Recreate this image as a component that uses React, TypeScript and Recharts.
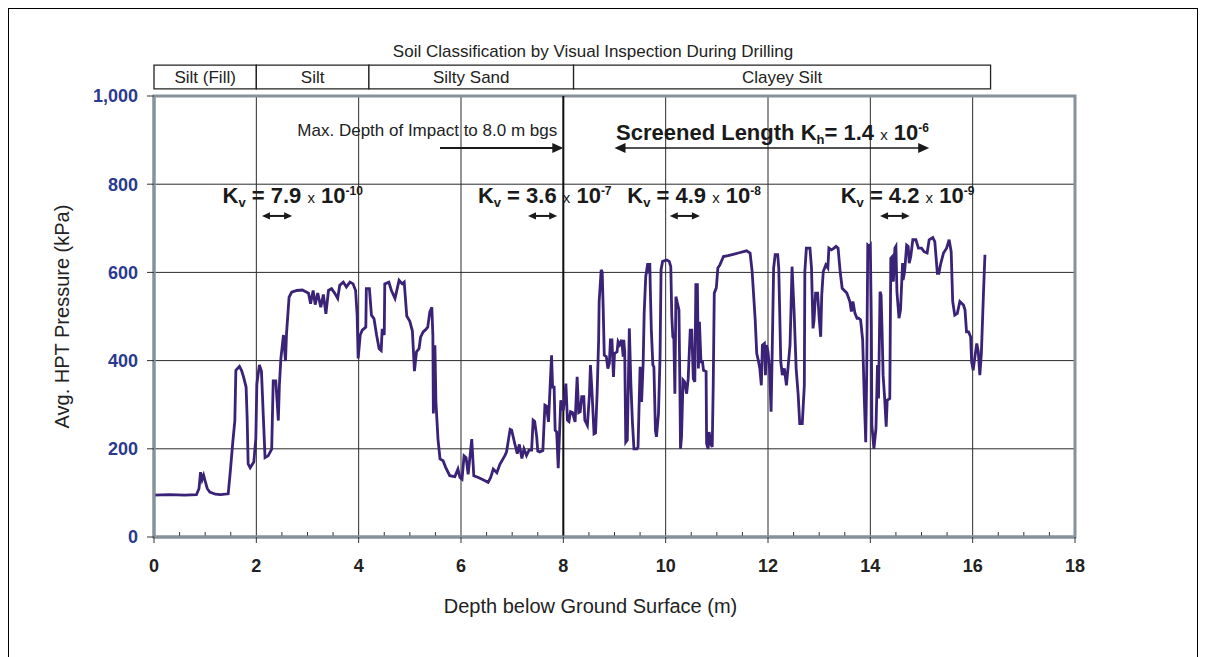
import React from 'react';
import {
  LineChart,
  Line,
  XAxis,
  YAxis,
  CartesianGrid,
  ReferenceLine,
  ReferenceArea,
  ReferenceDot,
  Label,
} from 'recharts';

const FONT = '"Liberation Sans", Arial, Helvetica, sans-serif';

// ---------- HPT trace: depth (m) and average HPT pressure (kPa) ----------
const depthM = [
  0, 0.3, 0.6, 0.83, 0.88, 0.91, 0.94, 0.97, 1.0, 1.04, 1.09, 1.2, 1.3, 1.45,
  1.49, 1.54, 1.58, 1.6, 1.67, 1.71, 1.75, 1.8, 1.82, 1.84, 1.88, 1.95, 1.99, 2.01, 2.06, 2.1, 2.14, 2.17, 2.23, 2.3,
  2.33, 2.38, 2.43, 2.45, 2.48, 2.53, 2.57, 2.59, 2.64, 2.69, 2.79, 2.9, 3.02, 3.06, 3.11, 3.15, 3.2, 3.26, 3.31, 3.36,
  3.41, 3.47, 3.53, 3.59, 3.63, 3.7, 3.76, 3.83, 3.89, 3.94, 3.97, 3.99, 4.03, 4.07, 4.14, 4.15, 4.21, 4.25, 4.3, 4.35,
  4.4, 4.44, 4.46, 4.5, 4.51, 4.59, 4.64, 4.71, 4.79, 4.85, 4.89, 4.94, 5.0, 5.05, 5.09, 5.13, 5.18, 5.21, 5.26, 5.3,
  5.35, 5.39, 5.43, 5.45, 5.46, 5.49, 5.51, 5.55, 5.59, 5.65, 5.7, 5.78, 5.88, 5.94, 5.98, 6.02, 6.06, 6.1, 6.14, 6.21,
  6.25, 6.34, 6.44, 6.53, 6.58, 6.63, 6.7, 6.76, 6.86, 6.89, 6.96, 6.99, 7.05, 7.1, 7.14, 7.19, 7.23, 7.28, 7.33, 7.38,
  7.41, 7.44, 7.48, 7.5, 7.54, 7.6, 7.64, 7.67, 7.71, 7.74, 7.77, 7.79, 7.82, 7.84, 7.87, 7.9, 7.95, 8.0, 8.05, 8.08,
  8.11, 8.14, 8.18, 8.23, 8.27, 8.3, 8.33, 8.36, 8.4, 8.42, 8.47, 8.51, 8.53, 8.56, 8.6, 8.63, 8.66, 8.69, 8.7, 8.74,
  8.76, 8.78, 8.8, 8.84, 8.87, 8.9, 8.92, 8.95, 8.98, 9.0, 9.05, 9.07, 9.1, 9.14, 9.17, 9.18, 9.2, 9.22, 9.25, 9.29,
  9.32, 9.35, 9.38, 9.44, 9.46, 9.5, 9.53, 9.56, 9.58, 9.61, 9.65, 9.67, 9.69, 9.7, 9.72, 9.75, 9.77, 9.8, 9.82, 9.86,
  9.89, 9.91, 9.94, 10.02, 10.07, 10.1, 10.12, 10.14, 10.16, 10.18, 10.2, 10.23, 10.26, 10.28, 10.29, 10.31, 10.34, 10.37, 10.41, 10.44,
  10.48, 10.51, 10.54, 10.57, 10.59, 10.62, 10.64, 10.66, 10.69, 10.72, 10.74, 10.79, 10.8, 10.83, 10.85, 10.88, 10.91, 10.93, 10.95, 10.99,
  11.02, 11.06, 11.13, 11.22, 11.32, 11.42, 11.52, 11.58, 11.65, 11.69, 11.75, 11.78, 11.81, 11.84, 11.87, 11.89, 11.93, 11.95, 11.97, 12.0,
  12.03, 12.06, 12.08, 12.11, 12.14, 12.19, 12.21, 12.25, 12.28, 12.32, 12.36, 12.39, 12.43, 12.45, 12.47, 12.51, 12.55, 12.59, 12.62, 12.67,
  12.71, 12.72, 12.75, 12.82, 12.85, 12.88, 12.9, 12.93, 12.97, 13.0, 13.03, 13.05, 13.08, 13.13, 13.17, 13.19, 13.24, 13.29, 13.33, 13.37,
  13.41, 13.45, 13.54, 13.6, 13.63, 13.66, 13.7, 13.74, 13.77, 13.81, 13.85, 13.88, 13.91, 13.93, 13.95, 13.98, 14.0, 14.02, 14.03, 14.07,
  14.11, 14.14, 14.16, 14.19, 14.21, 14.23, 14.25, 14.28, 14.31, 14.33, 14.38, 14.4, 14.43, 14.45, 14.48, 14.5, 14.52, 14.56, 14.59, 14.63,
  14.64, 14.67, 14.71, 14.74, 14.76, 14.79, 14.83, 14.89, 14.94, 15.0, 15.05, 15.11, 15.15, 15.22, 15.26, 15.31, 15.34, 15.37, 15.43, 15.49,
  15.54, 15.58, 15.61, 15.65, 15.7, 15.75, 15.82, 15.85, 15.88, 15.92, 15.96, 15.98, 16.01, 16.04, 16.08, 16.11, 16.14, 16.17, 16.21, 16.24,
];

const hptKPa = [
  95, 96, 95, 96, 110, 147, 130, 140, 127, 110, 102, 97, 96, 98,
  147, 215, 264, 378, 387, 378, 363, 340, 272, 166, 157, 170, 223, 347, 390, 376, 264, 180, 184, 199,
  354, 354, 264, 343, 405, 458, 399, 461, 544, 555, 559, 560, 553, 529, 559, 527, 553, 521, 550, 506,
  559, 563, 553, 541, 571, 578, 567, 578, 574, 559, 503, 405, 458, 469, 476, 563, 563, 503, 495, 458,
  427, 423, 472, 458, 574, 578, 559, 541, 582, 574, 578, 501, 489, 467, 376, 420, 427, 453, 465, 469,
  476, 510, 521, 458, 280, 435, 306, 222, 177, 173, 158, 139, 137, 154, 135, 131, 184, 180, 142, 222,
  139, 135, 129, 124, 135, 154, 146, 165, 185, 193, 244, 242, 212, 189, 210, 178, 200, 185, 197, 197,
  265, 262, 227, 195, 193, 196, 299, 297, 261, 337, 412, 340, 340, 242, 238, 156, 310, 287, 348, 265,
  262, 284, 282, 261, 363, 282, 284, 318, 318, 265, 253, 322, 390, 330, 234, 236, 325, 447, 534, 606,
  600, 515, 412, 409, 382, 394, 447, 447, 363, 416, 420, 443, 436, 447, 409, 447, 420, 215, 220, 473,
  348, 261, 200, 200, 204, 386, 306, 394, 507, 590, 621, 598, 621, 563, 469, 390, 386, 242, 227, 280,
  409, 606, 625, 628, 625, 613, 500, 454, 450, 325, 545, 530, 515, 322, 200, 227, 356, 352, 325, 359,
  469, 469, 359, 352, 572, 572, 382, 488, 397, 397, 378, 375, 212, 200, 238, 212, 204, 348, 553, 565,
  610, 617, 636, 638, 641, 644, 647, 649, 644, 602, 492, 416, 401, 382, 344, 435, 439, 367, 435, 420,
  382, 284, 405, 610, 640, 640, 610, 397, 367, 382, 344, 382, 435, 519, 613, 511, 382, 322, 257, 257,
  344, 602, 655, 655, 610, 473, 492, 553, 553, 496, 454, 548, 602, 617, 610, 655, 651, 655, 659, 655,
  602, 564, 553, 534, 511, 534, 507, 496, 496, 492, 447, 322, 215, 380, 662, 659, 662, 481, 253, 200,
  246, 390, 314, 556, 549, 465, 367, 314, 250, 310, 314, 632, 636, 579, 655, 659, 556, 496, 515, 621,
  583, 602, 662, 659, 621, 636, 674, 674, 655, 655, 647, 644, 674, 679, 670, 598, 598, 617, 644, 655,
  674, 647, 534, 503, 507, 534, 526, 515, 465, 465, 454, 397, 378, 405, 439, 420, 367, 416, 549, 640,
];

// ---------- axes ----------
const xTicks = [0, 2, 4, 6, 8, 10, 12, 14, 16, 18];
const xMinorTicks = [
  0.5, 1, 1.5, 2.5, 3, 3.5, 4.5, 5, 5.5, 6.5, 7, 7.5, 8.5, 9, 9.5,
  10.5, 11, 11.5, 12.5, 13, 13.5, 14.5, 15, 15.5, 16.5, 17, 17.5,
];
const yTicks = [0, 200, 400, 600, 800, 1000];
const xTitle = 'Depth below Ground Surface (m)';
const yTitle = 'Avg. HPT Pressure (kPa)';

// ---------- soil classification strip ----------
const soilTitle = 'Soil Classification by Visual Inspection During Drilling';
const soilNames = ['Silt (Fill)', 'Silt', 'Silty Sand', 'Clayey Silt'];
const soilBounds = [0, 2, 4.2, 8.2, 16.35];

// ---------- annotations (depth intervals, m) ----------
const impactLabel = 'Max. Depth of Impact to 8.0 m bgs';
const impactDepth = 8;
const impactArrowFrom = 5.59;
const screenFrom = 9.0;
const screenTo = 15.15;
const screenCoef = '1.4';
const screenExp = '-6';
const kvCoef = ['7.9', '3.6', '4.9', '4.2'];
const kvExp = ['-10', '-7', '-8', '-9'];
const kvFrom = [2.11, 7.31, 10.08, 14.19];
const kvTo = [2.7, 7.88, 10.67, 14.77];

// ---------- annotation placement (chart units) ----------
const stripLow = 1016;
const stripHigh = 1070;
const soilTitlePos = { x: 8.58, y: 1088 };
const impactTextPos = { x: 7.88, y: 909 };
const screenTextPos = { x: 9.03, y: 900 };
const arrowRowY = 882;
const kvTextX = [1.34, 6.33, 9.25, 13.42];
const kvTextY = 757;
const kvArrowY = 728;

const data = depthM.map((d, i) => ({ depth: d, pressure: hptKPa[i] }));

const INK = '#1a1a1a';
const BORDER = '#87919b';

const center = (props: any) => {
  const vb = props.viewBox || {};
  return [(vb.x ?? 0) + (vb.width ?? 0) / 2, (vb.y ?? 0) + (vb.height ?? 0) / 2];
};

const arrowShape = (double: boolean, width: number, head: number) => (p: any) => {
  const { x1, y1, x2, y2 } = p;
  const hw = head * 0.45;
  return (
    <g>
      <line
        x1={double ? x1 + head - 1 : x1}
        y1={y1}
        x2={x2 - head + 1}
        y2={y2}
        stroke={INK}
        strokeWidth={width}
      />
      <polygon points={`${x2},${y2} ${x2 - head},${y2 - hw} ${x2 - head},${y2 + hw}`} fill={INK} />
      {double && (
        <polygon points={`${x1},${y1} ${x1 + head},${y1 - hw} ${x1 + head},${y1 + hw}`} fill={INK} />
      )}
    </g>
  );
};

const minorTickShape = (p: any) => (
  <line x1={p.x1} y1={p.y1} x2={p.x1} y2={p.y1 - 5} stroke="#333" strokeWidth={1} />
);

const KText = ({ x, y, coef, exp }: any) => (
  <text x={x} y={y} fontFamily={FONT} fontWeight="bold" fontSize={22} fill={INK}>
    <tspan>K</tspan>
    <tspan fontSize={13} dy={4}>v</tspan>
    <tspan dy={-4}>{' = ' + coef + ' '}</tspan>
    <tspan fontSize={15} fontWeight="normal">x</tspan>
    <tspan>{' 10'}</tspan>
    <tspan fontSize={12} dy={-8}>{exp}</tspan>
  </text>
);

export default function App() {
  return (
    <div
      style={{
        position: 'relative',
        width: 1192,
        height: 700,
        margin: '-1px 0 0 -1px',
        border: '2px solid #000',
        boxSizing: 'border-box',
        background: '#fff',
      }}
    >
      <style>{'body{overflow:hidden;}'}</style>
      <div style={{ position: 'absolute', left: -9, top: -9 }}>
        <LineChart
          width={1206}
          height={657}
          data={data}
          margin={{ top: 96, right: 131, bottom: 30, left: 20 }}
        >
          <CartesianGrid stroke="#2b2b2b" strokeWidth={1} />

          {/* soil classification strip */}
          {soilNames.map((name, i) => (
            <ReferenceArea
              key={name}
              x1={soilBounds[i]}
              x2={soilBounds[i + 1]}
              y1={stripLow}
              y2={stripHigh}
              ifOverflow="visible"
              fill="#fff"
              fillOpacity={1}
              stroke="#222"
              strokeWidth={1.3}
              label={{ value: name, position: 'center', fill: '#222', fontSize: 17, fontFamily: FONT }}
            />
          ))}
          <ReferenceDot
            x={soilTitlePos.x}
            y={soilTitlePos.y}
            r={1}
            fill="none"
            stroke="none"
            ifOverflow="visible"
            label={(props: any) => {
              const [x, y] = center(props);
              return (
                <text x={x} y={y} textAnchor="middle" fontFamily={FONT} fontSize={17} fill="#222">
                  {soilTitle}
                </text>
              );
            }}
          />

          {/* plot frame */}
          <ReferenceArea
            x1={0}
            x2={18}
            y1={0}
            y2={1000}
            ifOverflow="visible"
            fill="none"
            stroke={BORDER}
            strokeWidth={3}
          />

          {xMinorTicks.map((t) => (
            <ReferenceLine
              key={'m' + t}
              segment={[{ x: t, y: 0 }, { x: t, y: 0 }]}
              ifOverflow="visible"
              shape={minorTickShape}
            />
          ))}

          <ReferenceLine x={impactDepth} stroke="#111" strokeWidth={2} />

          {/* max depth of impact */}
          <ReferenceDot
            x={impactTextPos.x}
            y={impactTextPos.y}
            r={1}
            fill="none"
            stroke="none"
            ifOverflow="visible"
            label={(props: any) => {
              const [x, y] = center(props);
              return (
                <text x={x} y={y} textAnchor="end" fontFamily={FONT} fontSize={17} fill="#222">
                  {impactLabel}
                </text>
              );
            }}
          />
          <ReferenceLine
            segment={[{ x: impactArrowFrom, y: arrowRowY }, { x: impactDepth, y: arrowRowY }]}
            ifOverflow="visible"
            shape={arrowShape(false, 2, 11)}
          />

          {/* screened length */}
          <ReferenceDot
            x={screenTextPos.x}
            y={screenTextPos.y}
            r={1}
            fill="none"
            stroke="none"
            ifOverflow="visible"
            label={(props: any) => {
              const [x, y] = center(props);
              return (
                <text x={x} y={y} fontFamily={FONT} fontWeight="bold" fontSize={22} fill={INK}>
                  <tspan>{'Screened Length K'}</tspan>
                  <tspan fontSize={13} dy={4}>h</tspan>
                  <tspan dy={-4}>{'= ' + screenCoef + ' '}</tspan>
                  <tspan fontSize={15} fontWeight="normal">x</tspan>
                  <tspan>{' 10'}</tspan>
                  <tspan fontSize={12} dy={-8}>{screenExp}</tspan>
                </text>
              );
            }}
          />
          <ReferenceLine
            segment={[{ x: screenFrom, y: arrowRowY }, { x: screenTo, y: arrowRowY }]}
            ifOverflow="visible"
            shape={arrowShape(true, 1.5, 11)}
          />

          {/* vertical K tests */}
          {kvCoef.map((c, i) => (
            <ReferenceDot
              key={'kv' + i}
              x={kvTextX[i]}
              y={kvTextY}
              r={1}
              fill="none"
              stroke="none"
              ifOverflow="visible"
              label={(props: any) => {
                const [x, y] = center(props);
                return <KText x={x} y={y} coef={c} exp={kvExp[i]} />;
              }}
            />
          ))}
          {kvFrom.map((f, i) => (
            <ReferenceLine
              key={'ka' + i}
              segment={[{ x: f, y: kvArrowY }, { x: kvTo[i], y: kvArrowY }]}
              ifOverflow="visible"
              shape={arrowShape(true, 2, 8)}
            />
          ))}

          <XAxis
            type="number"
            dataKey="depth"
            domain={[0, 18]}
            ticks={xTicks}
            interval={0}
            height={90}
            axisLine={{ stroke: BORDER, strokeWidth: 3 }}
            tickLine={{ stroke: '#333' }}
            tickSize={6}
            tickMargin={16}
            tick={{ fill: '#222', fontSize: 18, fontWeight: 'bold', fontFamily: FONT }}
          >
            <Label
              content={(props: any) => {
                const vb = props.viewBox || {};
                return (
                  <text
                    x={(vb.x ?? 0) + (vb.width ?? 0) / 2 - 24}
                    y={(vb.y ?? 0) + 76}
                    textAnchor="middle"
                    fontFamily={FONT}
                    fontSize={20}
                    fill="#222"
                  >
                    {xTitle}
                  </text>
                );
              }}
            />
          </XAxis>
          <YAxis
            type="number"
            domain={[0, 1000]}
            ticks={yTicks}
            interval={0}
            width={134}
            axisLine={{ stroke: BORDER, strokeWidth: 3 }}
            tickLine={{ stroke: '#333' }}
            tickSize={7}
            tickMargin={9}
            tickFormatter={(v: number) => v.toLocaleString('en-US')}
            tick={{ fill: '#2b3a8f', fontSize: 18, fontWeight: 'bold', fontFamily: FONT }}
          >
            <Label
              content={(props: any) => {
                const vb = props.viewBox || {};
                const cx = (vb.x ?? 0) + (vb.width ?? 0) - 85;
                const cy = (vb.y ?? 0) + (vb.height ?? 0) / 2;
                return (
                  <text
                    x={cx}
                    y={cy}
                    textAnchor="middle"
                    transform={`rotate(-90, ${cx}, ${cy})`}
                    fontFamily={FONT}
                    fontSize={20}
                    fill="#222"
                  >
                    {yTitle}
                  </text>
                );
              }}
            />
          </YAxis>

          <Line
            type="linear"
            dataKey="pressure"
            stroke="#3a2277"
            strokeWidth={2.8}
            dot={false}
            activeDot={false}
            isAnimationActive={false}
          />
        </LineChart>
      </div>
    </div>
  );
}
